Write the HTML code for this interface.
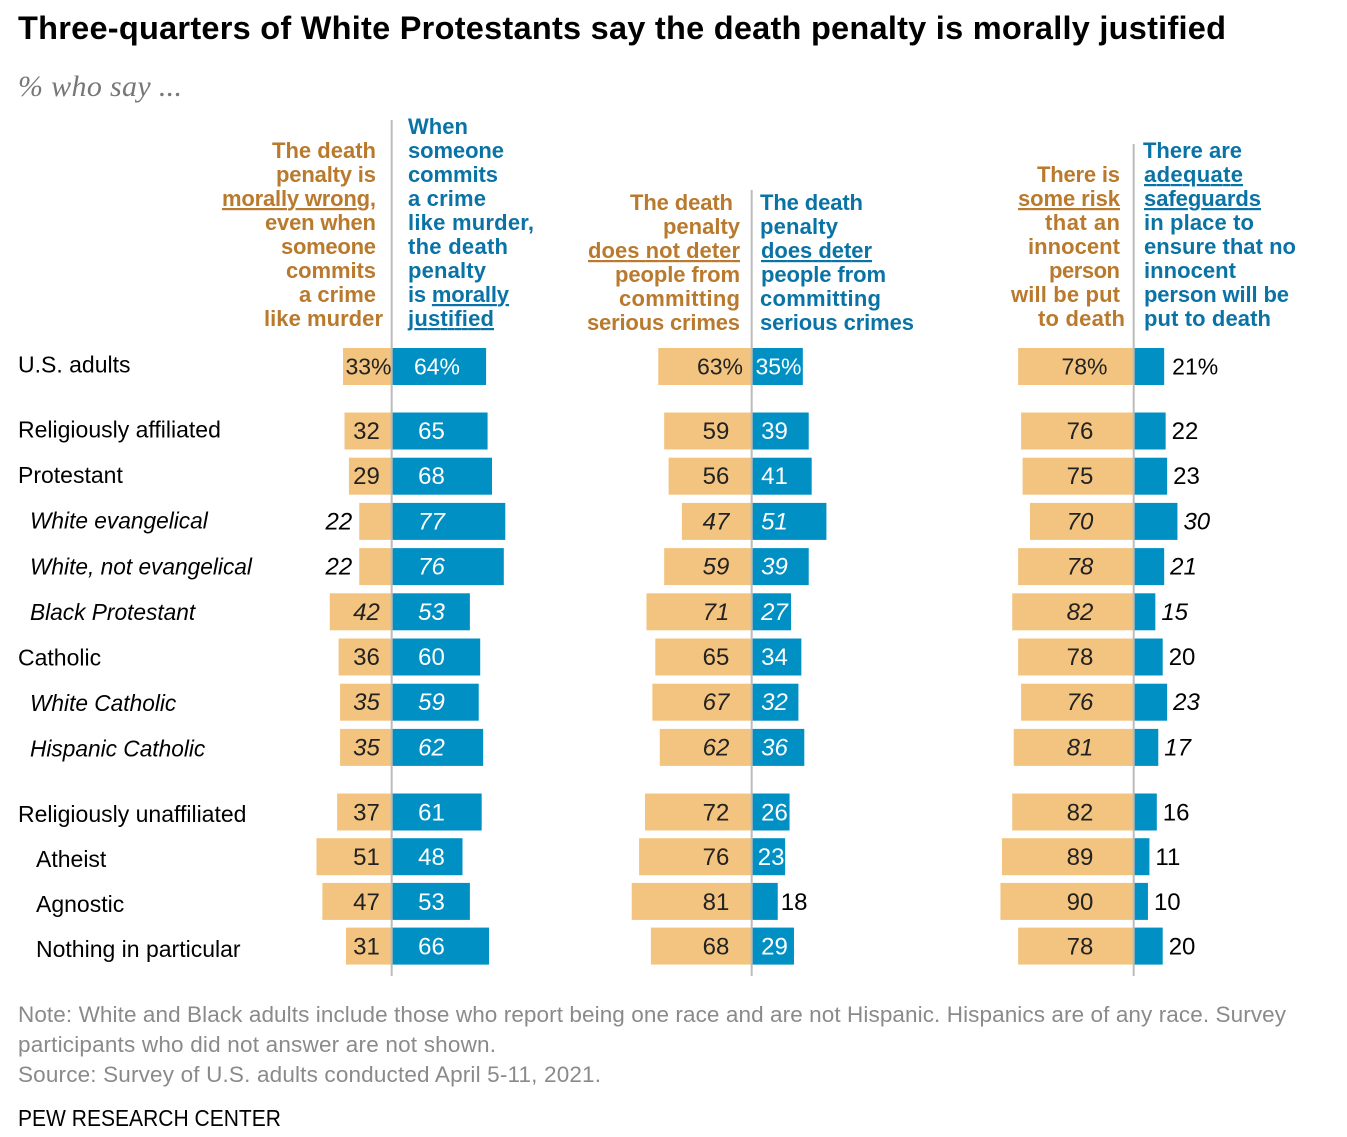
<!DOCTYPE html>
<html lang="en">
<head>
<meta charset="utf-8">
<title>Three-quarters of White Protestants say the death penalty is morally justified</title>
<style>
html,body{margin:0;padding:0;background:#fff;}
svg{display:block;font-family:"Liberation Sans",sans-serif;}
.hd{font-size:22px;font-weight:bold;}
.or{fill:#B97A2E;}
.bl{fill:#0A73A6;}
.ft{font-size:22.5px;fill:#8A8A8A;}
.ul{text-decoration:underline;}
</style>
</head>
<body>
<svg id="chart" xmlns="http://www.w3.org/2000/svg" width="1347" height="1137" viewBox="0 0 1347 1137">
  <text x="18" y="39" font-size="32.5" font-weight="bold" fill="#000" textLength="1208">Three-quarters of White Protestants say the death penalty is morally justified</text>
  <text x="18" y="96" font-size="30" font-style="italic" fill="#777" style="font-family:'Liberation Serif',serif" textLength="164">% who say ...</text>

  <g id="bars-layer"></g>

  <line x1="391.7" x2="391.7" y1="120" y2="976" stroke="#BBBBBB" stroke-width="2"/>
  <line x1="751.7" x2="751.7" y1="190" y2="976" stroke="#BBBBBB" stroke-width="2"/>
  <line x1="1133.7" x2="1133.7" y1="144" y2="976" stroke="#BBBBBB" stroke-width="2"/>

  <g id="labels-layer"></g>
  <g id="cats-layer"></g>

  <g class="hd or" transform="translate(0,-1)">
    <text x="272" y="159" textLength="104">The death</text>
    <text x="276" y="183" textLength="100">penalty is</text>
    <text x="222" y="207" textLength="154"><tspan class="ul">morally wrong</tspan>,</text>
    <text x="265" y="231" textLength="111">even when</text>
    <text x="281" y="255" textLength="95">someone</text>
    <text x="286" y="279" textLength="90">commits</text>
    <text x="299" y="303" textLength="77">a crime</text>
    <text x="264" y="327" textLength="119">like murder</text>
  </g>
  <g class="hd bl" transform="translate(0,-1)">
    <text x="408" y="135" textLength="60">When</text>
    <text x="408" y="159" textLength="96">someone</text>
    <text x="408" y="183" textLength="90">commits</text>
    <text x="408" y="207" textLength="78">a crime</text>
    <text x="408" y="231" textLength="126">like murder,</text>
    <text x="408" y="255" textLength="100">the death</text>
    <text x="408" y="279" textLength="78">penalty</text>
    <text x="408" y="303" textLength="101">is <tspan class="ul">morally</tspan></text>
    <text x="408" y="327" textLength="86" class="ul">justified</text>
  </g>
  <g class="hd or" transform="translate(0,-1)">
    <text x="630" y="211" textLength="103">The death</text>
    <text x="663" y="235" textLength="77">penalty</text>
    <text x="588" y="259" textLength="152" class="ul">does not deter</text>
    <text x="615" y="283" textLength="125">people from</text>
    <text x="619" y="307" textLength="121">committing</text>
    <text x="587" y="331" textLength="153">serious crimes</text>
  </g>
  <g class="hd bl" transform="translate(0,-1)">
    <text x="760" y="211" textLength="103">The death</text>
    <text x="760" y="235" textLength="78">penalty</text>
    <text x="761" y="259" textLength="111" class="ul">does deter</text>
    <text x="761" y="283" textLength="125">people from</text>
    <text x="760" y="307" textLength="121">committing</text>
    <text x="760" y="331" textLength="154">serious crimes</text>
  </g>
  <g class="hd or" transform="translate(0,-1)">
    <text x="1037" y="183" textLength="83">There is</text>
    <text x="1018" y="207" textLength="102" class="ul">some risk</text>
    <text x="1045" y="231" textLength="75">that an</text>
    <text x="1028" y="255" textLength="92">innocent</text>
    <text x="1049" y="279" textLength="71">person</text>
    <text x="1011" y="303" textLength="109">will be put</text>
    <text x="1038" y="327" textLength="87">to death</text>
  </g>
  <g class="hd bl" transform="translate(0,-1)">
    <text x="1143" y="159" textLength="99">There are</text>
    <text x="1144" y="183" textLength="99" class="ul">adequate</text>
    <text x="1144" y="207" textLength="117" class="ul">safeguards</text>
    <text x="1144" y="231" textLength="110">in place to</text>
    <text x="1144" y="255" textLength="152">ensure that no</text>
    <text x="1144" y="279" textLength="92">innocent</text>
    <text x="1144" y="303" textLength="145">person will be</text>
    <text x="1144" y="327" textLength="127">put to death</text>
  </g>

  <text class="ft" x="18" y="1022" textLength="1268">Note: White and Black adults include those who report being one race and are not Hispanic. Hispanics are of any race. Survey</text>
  <text class="ft" x="18" y="1052" textLength="478">participants who did not answer are not shown.</text>
  <text class="ft" x="18" y="1082" textLength="583">Source: Survey of U.S. adults conducted April 5-11, 2021.</text>
  <text x="18" y="1126" font-size="23" fill="#000" textLength="263" lengthAdjust="spacingAndGlyphs">PEW RESEARCH CENTER</text>
</svg>
<script>
const categories = ["U.S. adults","Religiously affiliated","Protestant","White evangelical","White, not evangelical","Black Protestant","Catholic","White Catholic","Hispanic Catholic","Religiously unaffiliated","Atheist","Agnostic","Nothing in particular"];
const levels = [0,0,0,1,1,1,0,1,1,0,2,2,2];
const morallyWrong = [33,32,29,22,22,42,36,35,35,37,51,47,31];
const morallyJustified = [64,65,68,77,76,53,60,59,62,61,48,53,66];
const notDeter = [63,59,56,47,59,71,65,67,62,72,76,81,68];
const doesDeter = [35,39,41,51,39,27,34,32,36,26,23,18,29];
const someRisk = [78,76,75,70,78,82,78,76,81,82,89,90,78];
const safeguards = [21,22,23,30,21,15,20,23,17,16,11,10,20];

const NS = 'http://www.w3.org/2000/svg';
const unit = 1.475;
const barH = 37;
function xLeft(axis, v){ return axis - v * unit; }
function xRight(axis, v){ return axis + v * unit; }
function rowY(i){
  if (i === 0) return 366.5;
  if (i <= 8) return 431 + (i - 1) * 45.2;
  return 812 + (i - 9) * 44.7;
}
function catY(i){
  if (i === 0) return 372.5;
  if (i <= 8) return 437.5 + (i - 1) * 45.6;
  return 822 + (i - 9) * 45;
}

const barsLayer = document.getElementById('bars-layer');
const labelsLayer = document.getElementById('labels-layer');
const catsLayer = document.getElementById('cats-layer');

function addBar(x, w, i, fill, key){
  const r = document.createElementNS(NS, 'rect');
  r.setAttribute('x', x);
  r.setAttribute('y', rowY(i) - barH / 2);
  r.setAttribute('width', w);
  r.setAttribute('height', barH);
  r.setAttribute('fill', fill);
  
  
  barsLayer.appendChild(r);
}
function addLabel(txt, x, i, anchor, color, key){
  const t = document.createElementNS(NS, 'text');
  t.setAttribute('x', x);
  t.setAttribute('y', rowY(i) + (i >= 9 ? 8.5 : 8));
  t.setAttribute('text-anchor', anchor);
  t.setAttribute('font-size', i === 0 ? '23' : '24');
  t.setAttribute('fill', color);
  if (levels[i] === 1) t.setAttribute('font-style', 'italic');
  t.textContent = txt;
  
  
  labelsLayer.appendChild(t);
}
function drawPanel(axis, left, right, leftKey, rightKey, leftCenter, rightCenter, leftMin, rightMin, gap, leftPct, rightPct){
  left.forEach(function(v, i){
    const x = xLeft(axis, v);
    addBar(x, axis - x, i, '#F3C47F', leftKey);
    const txt = v + (i === 0 ? '%' : '');
    if (v < leftMin) addLabel(txt, x - 7, i, 'end', '#000', leftKey);
    else addLabel(txt, leftCenter + (i === 0 ? leftPct : 0), i, 'middle', '#222', leftKey);
  });
  right.forEach(function(v, i){
    const x = xRight(axis, v);
    addBar(axis, x - axis, i, '#0090C3', rightKey);
    const txt = v + (i === 0 ? '%' : '');
    if (v < rightMin) addLabel(txt, x + gap + (i === 0 ? 2 : 0), i, 'start', '#000', rightKey);
    else addLabel(txt, Math.min(rightCenter + (i === 0 ? rightPct : 0), x - 14 + (i === 0 ? 14 : 0)), i, 'middle', '#fff', rightKey);
  });
}
drawPanel(391.7, morallyWrong, morallyJustified, 'morally-wrong', 'morally-justified', 366.5, 431.5, 25, 25, 6, 2, 5.5);
drawPanel(751.2, notDeter, doesDeter, 'does-not-deter', 'does-deter', 716, 774.5, 25, 20, 3, 4, 4);
drawPanel(1133.2, someRisk, safeguards, 'some-risk', 'safeguards', 1080, 0, 25, 100, 6, 4.5, 0);

categories.forEach(function(name, i){
  const t = document.createElementNS(NS, 'text');
  t.setAttribute('x', 18 + (levels[i] === 1 ? 12 : levels[i] === 2 ? 18 : 0));
  t.setAttribute('y', catY(i));
  t.setAttribute('font-size', levels[i] === 1 ? '22.7' : '23');
  t.setAttribute('fill', '#000');
  if (levels[i] === 1) t.setAttribute('font-style', 'italic');
  t.textContent = name;
  
  
  catsLayer.appendChild(t);
});
</script>
</body>
</html>
